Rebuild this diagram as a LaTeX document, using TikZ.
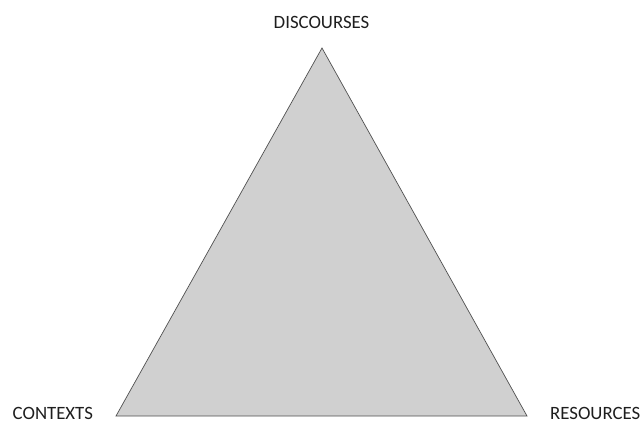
\documentclass[tikz,border=0pt]{standalone}
\usepackage{fontspec}
\setmainfont{Carlito}
\usepackage{xcolor}
\usetikzlibrary{positioning}
\definecolor{triangleFill}{HTML}{D0D0D0}
\definecolor{triangleEdge}{HTML}{505050}
\definecolor{labelInk}{HTML}{1E1E1E}
\tikzset{
    triangle/area/.style={
        fill=triangleFill, draw=triangleEdge, line width=0.7pt,
        line join=miter
    },
    triangle/label/.style={
        font=\fontsize{18.8}{21}\selectfont, text=labelInk,
        inner sep=0pt, anchor=base
    }
}
\begin{document}
\begin{tikzpicture}[x=1pt,y=-1pt]
    \useasboundingbox (0,0) rectangle (643,423);

    \coordinate (discourses) at (322,48);
    \coordinate (contexts) at (116,416);
    \coordinate (resources) at (527,416);

    \filldraw[triangle/area] (discourses) -- (contexts) -- (resources) -- cycle;

    \node[triangle/label] (discoursesLabel) at (321.5,28) {DISCOURSES};
    \node[triangle/label, anchor=base west] (contextsLabel) at (12.5,419) {CONTEXTS};
    \node[triangle/label, anchor=base west] (resourcesLabel) at (550,419) {RESOURCES};
\end{tikzpicture}
\end{document}
